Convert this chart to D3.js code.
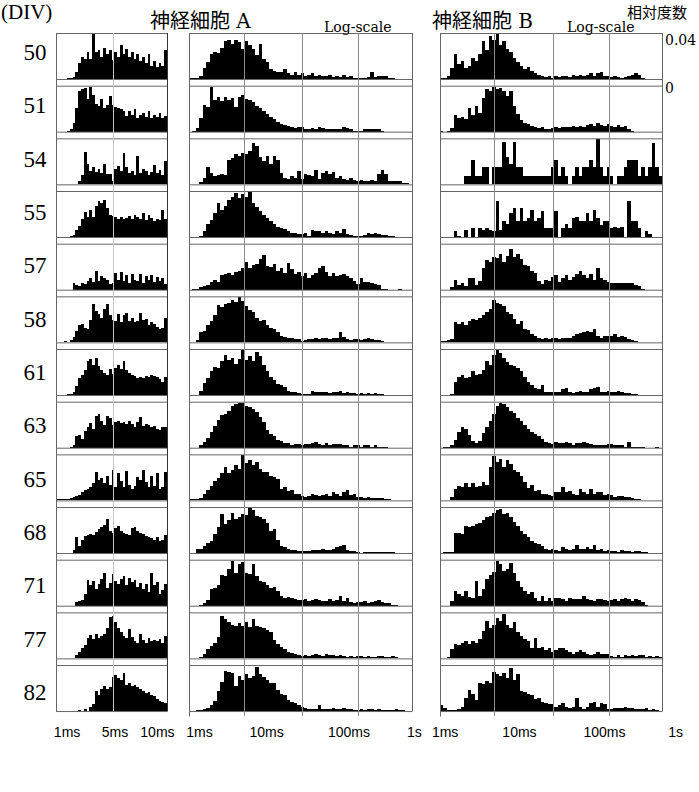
<!DOCTYPE html>
<html>
<head>
<meta charset="utf-8">
<script src="https://cdnjs.cloudflare.com/ajax/libs/d3/7.8.5/d3.min.js"></script>
<style>
  body { margin: 0; background: #fff; }
  svg { display: block; }
</style>
</head>
<body>
<svg id="chart" width="699" height="792"></svg>
<script>
// culture age (days in vitro), one row each
const divs = [50, 51, 54, 55, 57, 58, 61, 63, 65, 68, 71, 77, 82];

// neuron A, linear 1-10 ms, 40 bins (relative frequency x 1000)
const shortA = [
  [0,0,0,0,1,1,2,6,14,20,18,24,18,40,24,26,20,28,22,26,17,24,20,30,22,27,20,24,18,22,16,20,14,22,12,16,11,14,12,26],
  [0,0,0,0,1,2,8,21,36,38,39,29,40,33,25,23,29,21,24,32,24,22,21,20,18,14,18,15,20,12,15,17,13,18,12,15,13,17,12,14],
  [0,0,0,0,0,0,0,0,3,8,29,18,12,15,11,14,10,18,9,9,3,14,16,12,28,15,10,12,8,25,10,14,12,8,11,17,10,13,8,21],
  [0,0,0,0,0,1,2,6,10,16,22,18,24,18,28,32,30,33,26,20,19,18,16,18,16,17,19,16,20,18,16,21,15,20,17,14,16,15,24,16],
  [0,0,0,0,0,0,6,4,3,6,5,8,10,7,17,8,12,10,9,5,6,15,9,16,8,13,6,14,9,8,14,6,12,9,13,7,11,8,10,5],
  [0,0,0,1,0,2,5,10,15,16,13,12,20,34,28,25,22,30,34,24,20,19,25,18,24,26,19,22,18,19,26,20,21,15,18,16,14,12,13,22],
  [0,0,0,0,1,1,3,8,15,18,22,30,32,27,33,26,22,20,18,23,19,24,27,23,30,22,20,18,17,15,16,15,17,16,18,17,16,14,12,16],
  [0,0,0,0,0,1,2,10,11,8,15,18,22,17,28,30,24,20,28,26,20,23,24,22,23,21,24,21,18,23,27,19,21,20,18,19,17,16,18,18],
  [1,1,1,1,1,2,3,4,5,7,9,10,12,15,25,18,20,15,22,14,27,12,24,17,12,26,14,10,13,21,18,27,16,12,22,13,24,10,12,25],
  [0,0,0,0,0,0,3,14,6,12,15,16,17,16,19,21,23,25,30,20,18,22,24,20,18,17,16,22,23,20,18,17,15,14,13,12,14,11,12,16],
  [0,0,0,0,0,0,0,3,4,5,10,23,18,22,15,19,24,29,16,20,28,22,19,24,26,18,25,21,23,17,20,15,19,12,29,18,21,10,14,19],
  [0,0,0,0,0,0,0,3,6,9,12,18,21,17,22,18,20,22,27,37,38,32,27,23,20,18,26,19,15,14,22,16,14,18,15,16,15,17,14,20],
  [0,0,0,0,0,0,0,0,1,0,2,0,4,6,18,14,20,22,20,21,30,32,29,28,34,23,25,22,23,21,20,18,16,17,14,13,11,9,8,7]
];

// neuron A, log scale 1 ms - 1 s, 64 bins
const logA = [
  [1,1,1,3,10,15,22,24,23,28,34,35,31,35,33,27,34,30,27,21,31,18,15,9,7,6,6,9,5,4,6,4,5,3,4,5,3,4,3,3,4,2,3,2,4,2,3,1,1,1,1,2,6,2,3,3,3,1,1,0,0,0,0,0],
  [0,1,3,12,24,22,40,28,31,27,31,28,30,22,31,33,29,28,26,23,21,18,16,13,11,9,7,6,5,4,3,4,4,2,2,3,2,4,3,2,2,2,2,2,4,3,2,1,1,1,2,2,2,2,2,1,0,0,0,0,0,0,0,0],
  [0,0,0,2,6,15,10,7,8,9,8,22,23,27,25,28,27,30,37,34,24,21,25,18,25,22,10,6,5,7,6,12,5,9,8,7,13,5,10,12,9,11,6,7,5,4,6,4,3,4,3,3,4,3,9,13,9,3,3,3,3,1,1,0],
  [0,0,0,1,5,12,15,21,30,24,28,33,36,39,35,38,36,40,30,27,23,20,17,14,12,9,8,7,5,4,4,3,3,4,1,6,5,5,4,5,4,3,5,4,7,3,2,1,1,1,2,4,3,4,3,2,2,1,1,0,0,0,0,0],
  [0,1,1,2,3,4,7,9,7,13,14,15,13,16,17,19,25,19,22,23,27,31,21,20,23,17,19,15,24,18,14,16,12,15,10,13,15,19,21,16,12,15,12,13,14,12,10,8,5,10,7,7,6,5,4,1,1,0,0,0,1,0,0,0],
  [0,0,2,9,10,15,19,24,33,31,34,35,38,36,40,37,32,29,27,22,19,20,15,13,12,9,6,5,4,4,3,3,1,2,3,3,4,3,4,4,3,4,4,9,5,3,2,3,3,2,3,4,3,2,2,1,0,0,0,0,0,0,0,0],
  [0,0,0,4,11,15,21,25,24,30,36,31,33,28,32,40,31,35,30,38,35,27,21,16,13,10,9,7,4,3,3,2,1,1,1,4,3,3,3,3,2,3,3,4,2,3,2,2,1,2,1,2,1,2,1,1,0,0,0,0,0,0,0,0],
  [0,0,0,2,5,9,14,19,25,29,30,33,37,39,40,40,37,36,34,32,27,23,16,12,10,7,6,4,4,2,3,3,2,3,3,4,5,3,2,4,2,3,3,3,2,2,1,2,2,1,2,2,1,2,1,1,1,0,0,0,0,0,0,0],
  [1,1,1,2,6,9,13,17,20,24,30,24,27,31,28,40,33,36,31,34,28,25,25,22,21,19,10,12,8,9,6,6,4,3,4,6,5,4,5,6,4,7,6,4,7,9,5,6,3,3,2,3,2,2,2,2,1,1,0,0,0,0,0,0],
  [0,0,4,4,6,9,11,17,23,35,26,29,36,30,32,35,34,40,38,33,32,30,27,20,21,12,6,5,4,3,3,2,2,2,2,3,3,3,4,3,3,4,5,6,7,3,2,2,1,0,1,1,1,1,1,1,1,1,1,0,0,0,0,0],
  [0,0,0,1,2,5,15,16,18,27,26,33,40,29,37,39,29,28,37,26,22,21,18,16,17,13,9,7,8,7,6,5,5,6,4,5,6,5,4,4,6,4,5,9,4,7,3,2,3,3,4,2,3,4,5,3,2,2,1,1,0,0,0,0],
  [0,0,0,1,4,8,11,14,19,38,35,32,30,29,31,29,32,28,35,29,28,27,25,23,16,13,10,8,6,5,4,3,2,3,2,3,4,3,2,4,3,3,2,3,2,1,2,1,2,2,1,2,1,1,2,2,1,1,2,1,0,0,0,0],
  [0,0,1,1,2,3,5,9,18,26,36,35,34,22,31,28,33,29,31,39,33,30,28,25,25,19,15,14,10,8,7,5,4,3,2,2,2,5,2,2,2,3,2,2,3,2,2,1,1,2,1,2,2,1,2,1,1,1,1,2,1,1,0,0]
];

// neuron B, log scale 1 ms - 1 s, 64 bins
const logB = [
  [1,1,3,10,22,13,16,10,12,19,16,22,34,26,38,35,40,30,34,27,24,19,15,12,9,11,7,5,4,3,2,3,1,3,2,3,3,2,4,3,4,3,4,5,3,5,6,3,3,2,3,2,1,2,3,4,5,4,1,0,0,0,0,0],
  [1,0,1,3,15,12,13,11,21,15,23,17,30,38,36,40,38,39,36,32,36,23,16,10,8,7,5,4,3,4,2,2,3,4,3,4,4,4,5,4,5,4,6,7,5,8,6,5,7,5,4,6,4,5,2,1,0,0,0,0,0,0,0,0],
  [0,0,0,0,0,0,0,7,7,22,7,7,15,15,0,15,15,15,38,24,18,38,15,15,7,7,7,7,7,7,7,7,15,22,7,15,7,0,7,15,7,15,15,22,15,40,15,7,15,7,0,7,7,15,22,22,22,7,15,7,15,37,15,7],
  [0,0,0,0,5,1,0,6,0,8,0,8,6,8,6,5,32,6,14,12,21,26,14,26,14,17,24,14,17,23,8,8,8,23,0,8,12,8,17,18,14,14,21,14,24,17,11,14,14,8,9,8,9,0,32,14,14,8,0,5,3,0,0,0],
  [0,0,0,2,9,4,6,3,10,10,4,8,19,26,25,29,28,32,25,30,36,29,32,27,22,21,17,15,8,5,9,8,11,13,7,10,13,9,11,14,17,13,10,14,9,19,10,9,7,6,6,6,6,6,6,6,4,3,1,0,0,0,0,0],
  [1,1,2,3,18,16,18,15,19,21,20,22,24,27,30,38,35,34,32,27,25,21,16,19,12,11,7,6,4,3,4,3,4,4,3,4,4,4,6,7,8,9,10,9,12,6,4,6,6,6,7,5,6,5,3,2,1,0,0,0,0,0,0,0],
  [0,0,0,1,12,16,18,15,16,21,18,19,22,30,27,36,40,37,33,29,27,26,24,21,16,12,9,6,5,9,3,3,3,3,3,5,6,3,2,3,4,3,3,5,6,7,3,3,4,3,3,4,3,2,2,1,1,0,0,0,0,0,0,0],
  [0,1,1,2,7,14,18,17,11,6,4,6,13,18,24,30,37,40,39,36,33,31,26,24,20,17,14,12,10,8,5,4,3,5,4,4,5,4,2,4,4,5,4,3,2,2,2,2,3,3,2,2,2,1,5,1,1,1,1,0,0,0,1,0],
  [0,0,0,3,10,13,12,15,12,15,12,13,16,14,30,39,34,37,30,36,32,27,25,22,16,11,14,8,9,6,6,5,4,7,7,12,7,8,6,5,10,7,6,10,6,7,7,5,6,5,3,4,4,3,3,2,1,1,0,0,0,0,0,0],
  [0,1,1,1,18,18,17,24,23,24,26,27,29,32,33,36,38,39,35,36,32,28,24,20,17,14,11,9,8,6,4,3,4,3,2,5,4,3,4,7,4,4,5,4,7,3,4,2,3,2,2,1,3,2,2,1,2,2,1,1,0,0,0,0],
  [0,0,0,4,13,10,9,13,8,7,22,9,15,24,27,30,40,37,31,33,38,29,22,17,13,10,12,7,4,9,4,7,4,7,7,6,4,7,6,6,6,9,6,5,4,6,6,5,4,5,6,4,6,7,6,4,6,5,3,1,0,0,0,0],
  [0,0,1,8,13,12,14,15,13,15,14,17,24,33,27,30,36,33,39,30,27,32,23,20,17,15,9,18,9,10,7,9,6,7,9,9,7,6,4,6,7,6,4,3,4,6,4,4,4,2,1,3,1,3,2,3,2,3,3,1,2,1,2,1],
  [5,3,1,1,1,2,4,12,19,15,10,25,24,27,25,35,33,31,34,29,38,28,33,18,17,15,14,11,12,8,7,6,6,4,5,7,4,3,4,12,4,2,4,7,8,4,7,6,2,2,3,3,3,4,3,3,2,2,2,3,1,2,1,0]
];

const shortTicks = ['1ms', '5ms', '10ms'];
const logTicks = ['1ms', '10ms', '100ms', '1s'];
const yMax = 40; // 0.04 relative frequency

const svg = d3.select('#chart');
const serif = '"Liberation Serif", "Times New Roman", serif';
const dvSerif = '"DejaVu Serif", serif';
const sans = '"Liberation Sans", Arial, sans-serif';
const cjk = '"Noto Sans CJK JP", "Noto Sans CJK SC", sans-serif';

const rowTop = i => 33 + i * 52.67;
const boxH = 46;
const lastBottom = rowTop(divs.length - 1) + boxH;

const columns = [
  { data: shortA, x0: 56, x1: 167, grid: [0.514], gridColor: '#c4c4c4',
    ticks: shortTicks, tickAt: [0.1, 0.532, 0.914], foot: false },
  { data: logA, x0: 189, x1: 412, grid: [0.247, 0.507, 0.758], gridColor: '#8c8c8c',
    ticks: logTicks, tickAt: [0.047, 0.348, 0.717, 1.011], foot: true },
  { data: logB, x0: 440, x1: 662, grid: [0.243, 0.509, 0.761], gridColor: '#8c8c8c',
    ticks: logTicks, tickAt: [0.023, 0.358, 0.741, 1.061], foot: true }
];

columns.forEach(col => {
  const nBins = col.data[0].length;
  const x = d3.scaleLinear().domain([0, nBins]).range([col.x0, col.x1]);
  const frac = d3.scaleLinear().domain([0, 1]).range([col.x0, col.x1]);
  const g = svg.append('g');

  col.data.forEach((vals, i) => {
    const top = rowTop(i);
    const bottom = top + boxH;
    const y = d3.scaleLinear().domain([0, yMax]).range([bottom, top + 1]);

    g.append('g')
      .attr('shape-rendering', 'crispEdges')
      .selectAll('rect')
      .data(vals.map((v, k) => ({ v, k })).filter(d => d.v > 0))
      .enter()
      .append('rect')
      .attr('x', d => Math.round(x(d.k)))
      .attr('width', d => Math.round(x(d.k + 1)) - Math.round(x(d.k)))
      .attr('y', d => Math.min(y(d.v), bottom - 1))
      .attr('height', d => Math.max(1, bottom - y(d.v)))
      .attr('fill', '#000');

    // row frame
    g.append('line')
      .attr('x1', col.x0).attr('x2', col.x1)
      .attr('y1', top + 0.5).attr('y2', top + 0.5)
      .attr('stroke', '#666');
    g.append('line')
      .attr('x1', col.x0).attr('x2', col.x1)
      .attr('y1', bottom + 0.5).attr('y2', bottom + 0.5)
      .attr('stroke', '#666');
  });

  // gridlines run through the whole column
  col.grid.forEach(f => {
    g.append('line')
      .attr('x1', Math.round(frac(f)) + 0.5).attr('x2', Math.round(frac(f)) + 0.5)
      .attr('y1', rowTop(0)).attr('y2', lastBottom + (col.foot ? 5 : 0))
      .attr('stroke', col.gridColor);
  });

  [col.x0, col.x1].forEach((xe, j) => {
    g.append('line')
      .attr('x1', xe + 0.5).attr('x2', xe + 0.5)
      .attr('y1', rowTop(0)).attr('y2', lastBottom + (col.foot && j === 0 ? 5 : 0) + 0.5)
      .attr('stroke', j === 1 && !col.foot ? '#333' : '#666');
  });

  g.selectAll('text.tick')
    .data(col.ticks)
    .enter()
    .append('text')
    .attr('class', 'tick')
    .attr('x', (d, k) => frac(col.tickAt[k]))
    .attr('y', 737)
    .attr('text-anchor', 'middle')
    .attr('font-family', sans)
    .attr('font-size', 14)
    .text(d => d);
});

// row labels
svg.selectAll('text.div')
  .data(divs)
  .enter()
  .append('text')
  .attr('class', 'div')
  .attr('x', 35)
  .attr('y', (d, i) => 60 + i * 53.33)
  .attr('text-anchor', 'middle')
  .attr('font-family', serif)
  .attr('font-size', 23)
  .text(d => d);

svg.append('text')
  .attr('x', 1).attr('y', 19)
  .attr('font-family', serif).attr('font-size', 21)
  .text('(DIV)');

[['A', 150, 324], ['B', 432, 567]].forEach(([name, tx, lx]) => {
  const t = svg.append('text')
    .attr('x', tx).attr('y', 28)
    .attr('font-size', 20);
  t.append('tspan').attr('font-family', cjk).text('神経細胞');
  t.append('tspan').attr('font-family', dvSerif).text(' ' + name);

  svg.append('text')
    .attr('x', lx).attr('y', 32)
    .attr('font-family', dvSerif).attr('font-size', 14)
    .text('Log-scale');
});

svg.append('text')
  .attr('x', 627).attr('y', 18)
  .attr('font-family', cjk).attr('font-size', 15)
  .text('相対度数');

svg.append('text')
  .attr('x', 665).attr('y', 45)
  .attr('font-family', dvSerif).attr('font-size', 14)
  .text('0.04');

svg.append('text')
  .attr('x', 665).attr('y', 93)
  .attr('font-family', dvSerif).attr('font-size', 14)
  .text('0');
</script>
</body>
</html>
